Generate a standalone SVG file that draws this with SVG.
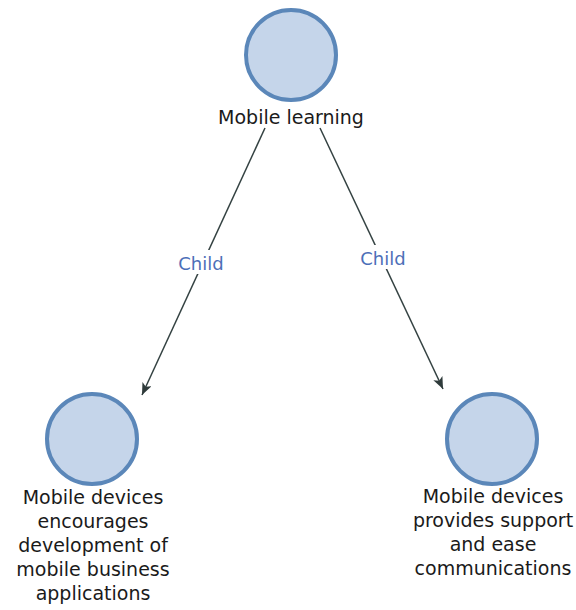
<svg xmlns="http://www.w3.org/2000/svg" width="576" height="610" viewBox="0 0 576 610">
  <defs>
    <marker id="arrow" viewBox="0 0 12 10" refX="12" refY="5" markerWidth="12" markerHeight="10" markerUnits="userSpaceOnUse" orient="auto">
      <path d="M0,0 L12,5 L0,10 L3,5 Z" fill="#2f3b3b"/>
    </marker>
    <style>
      .node circle { fill: #c5d5ea; stroke: #5b87b9; stroke-width: 4; }
      .node text { font-family: "DejaVu Sans", sans-serif; font-size: 19px; fill: #1a1a1a; text-anchor: middle; }
      .edge { stroke: #344242; stroke-width: 1.5; fill: none; marker-end: url(#arrow); }
      .elabel { font-family: "DejaVu Sans", sans-serif; font-size: 18px; fill: #4d6fb8; text-anchor: middle; }
      .lbg { fill: #ffffff; }
    </style>
  </defs>
  <rect width="576" height="610" fill="#ffffff"/>

  <g id="connectors">
    <line class="edge" x1="265" y1="128" x2="142" y2="395"/>
    <rect class="lbg" x="175" y="250" width="54" height="24"/>
    <text class="elabel" x="201" y="270">Child</text>
    <line class="edge" x1="320" y1="128" x2="443" y2="389"/>
    <rect class="lbg" x="356" y="245" width="54" height="24"/>
    <text class="elabel" x="383" y="265">Child</text>
  </g>

  <g id="mobile-learning" class="node">
    <circle cx="291" cy="55" r="45"/>
    <text x="291" y="124">Mobile learning</text>
  </g>

  <g id="business-applications" class="node">
    <circle cx="92" cy="439" r="45"/>
    <text x="93" y="504">Mobile devices</text>
    <text x="93" y="528">encourages</text>
    <text x="93" y="552">development of</text>
    <text x="93" y="576">mobile business</text>
    <text x="93" y="600">applications</text>
  </g>

  <g id="support-communications" class="node">
    <circle cx="492" cy="439" r="45"/>
    <text x="493" y="503">Mobile devices</text>
    <text x="493" y="527">provides support</text>
    <text x="493" y="551">and ease</text>
    <text x="493" y="575">communications</text>
  </g>
</svg>
